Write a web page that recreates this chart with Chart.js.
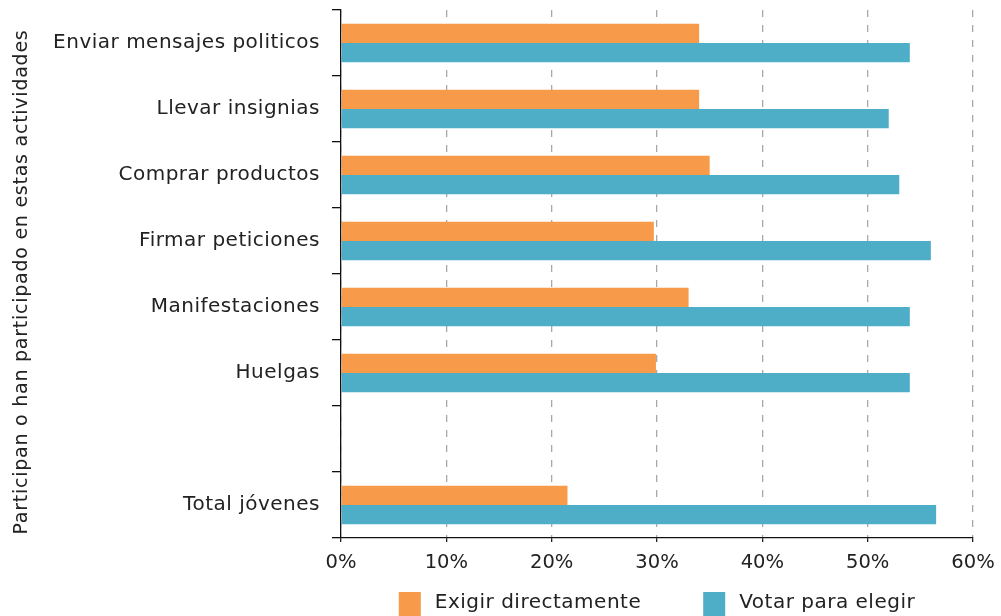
<!DOCTYPE html>
<html>
<head>
<meta charset="utf-8">
<script src="https://cdn.jsdelivr.net/npm/chart.js@4"></script>
<style>
html,body{margin:0;padding:0;background:#fff;}
#wrap{width:1001px;height:616px;position:relative;}
</style>
</head>
<body>
<div id="wrap"><canvas id="c" width="1001" height="616"></canvas></div>
<script>
const categories = ["Enviar mensajes politicos","Llevar insignias","Comprar productos","Firmar peticiones","Manifestaciones","Huelgas","","Total jóvenes"];
const exigirValues = [34, 34, 35, 29.7, 33, 29.9, null, 21.5];
const votarValues = [54, 52, 53, 56, 54, 54, null, 56.5];
const seriesNames = ["Exigir directamente","Votar para elegir"];
const xTicks = [0,10,20,30,40,50,60];
const yTitle = "Participan o han participado en estas actividades";

const FONT = "'DejaVu Sans', sans-serif";

function withSpacing(fn, spacing, dy) {
  return function(...args) {
    const ctx = this.ctx;
    ctx.save();
    ctx.letterSpacing = spacing;
    if (dy) ctx.translate(0, dy);
    fn.apply(this, args);
    ctx.restore();
  };
}

const spacingPlugin = {
  id: 'spacing',
  afterLayout(chart) {
    const y = chart.scales.y;
    if (!y._patched) {
      y.drawLabels = withSpacing(y.drawLabels, '0.5px', 0);
      y.drawTitle = withSpacing(y.drawTitle, '0.75px', 8);
      y._patched = true;
    }
  }
};

const legendPlugin = {
  id: 'customLegend',
  afterDraw(chart) {
    const ctx = chart.ctx;
    const ds = chart.data.datasets;
    ctx.save();
    ctx.font = "20px " + FONT;
    ctx.letterSpacing = '0.5px';
    const box = 22, gapText = 14, gapItem = 62;
    const widths = ds.map(d => box + gapText + ctx.measureText(d.label).width);
    const total = widths.reduce((a,b)=>a+b,0) + gapItem*(ds.length-1);
    const ca = chart.chartArea;
    let x = (ca.left + ca.right)/2 - total/2;
    const yc = 603;
    ds.forEach((d,i) => {
      ctx.fillStyle = d.backgroundColor;
      ctx.fillRect(x, 592, box, 24);
      ctx.fillStyle = '#222';
      ctx.textBaseline = 'middle';
      ctx.textAlign = 'left';
      ctx.fillText(d.label, x + box + gapText, yc);
      x += widths[i] + gapItem;
    });
    ctx.restore();
  }
};

new Chart(document.getElementById('c'), {
  type: 'bar',
  data: {
    labels: categories,
    datasets: [
      {label: seriesNames[0], data: exigirValues, backgroundColor: '#F79A4A', borderWidth: 0},
      {label: seriesNames[1], data: votarValues, backgroundColor: '#4EADC7', borderWidth: 0}
    ]
  },
  options: {
    indexAxis: 'y',
    responsive: false,
    animation: false,
    devicePixelRatio: 1,
    categoryPercentage: 0.58,
    barPercentage: 1,
    layout: {padding: {top: 10, right: 28, bottom: 0, left: 0}},
    plugins: {legend: {display: false}, tooltip: {enabled: false}},
    scales: {
      x: {
        min: 0, max: 60,
        afterBuildTicks(scale){ scale.ticks = xTicks.map(v => ({value: v})); },
        afterFit(scale){ scale.height = 78; scale.paddingLeft = 0; scale.paddingRight = 0; },
        ticks: {
          callback: v => v + '%',
          color: '#222',
          font: {family: FONT, size: 19.5},
          padding: 9,
          maxRotation: 0
        },
        grid: {color: '#A8A8A8', lineWidth: 1.3, tickLength: 4, tickColor: '#222'},
        border: {display: true, color: '#111', width: 1.3, dash: [7, 8]}
      },
      y: {
        afterFit(scale){ scale.width = 341; scale.paddingTop = 0; scale.paddingBottom = 0; },
        ticks: {
          color: '#222',
          font: {family: FONT, size: 20},
          padding: 12
        },
        grid: {display: true, drawOnChartArea: false, color: '#111', lineWidth: 1.3, tickLength: 9, offset: true},
        border: {display: true, color: '#111', width: 1.3},
        title: {
          display: true,
          text: yTitle,
          color: '#222',
          font: {family: FONT, size: 19},
          padding: {top: 11, bottom: 0}
        }
      }
    }
  },
  plugins: [spacingPlugin, legendPlugin]
});
</script>
</body>
</html>
